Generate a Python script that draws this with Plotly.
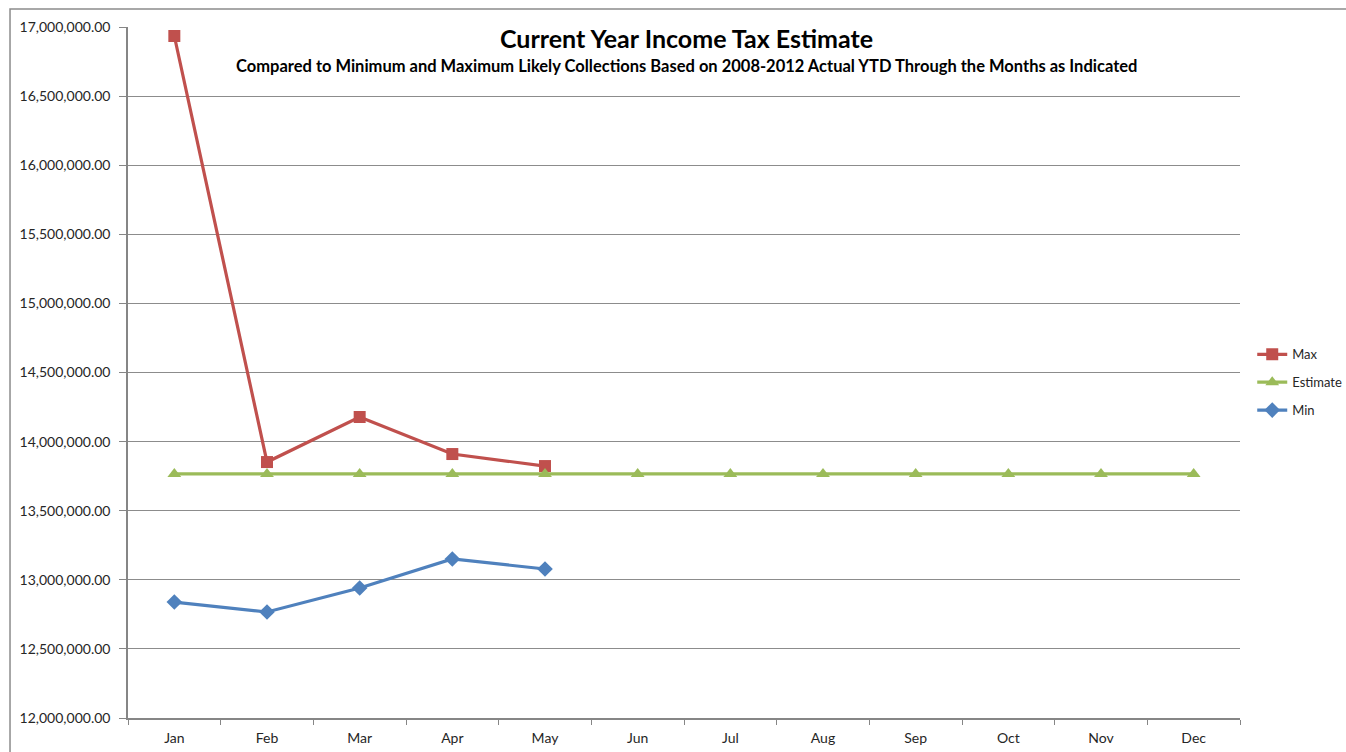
import plotly.graph_objects as go

months = ["Jan", "Feb", "Mar", "Apr", "May", "Jun", "Jul", "Aug", "Sep", "Oct", "Nov", "Dec"]
max_vals = [16935000, 13852000, 14178000, 13910000, 13823000]
estimate_vals = [13766000] * 12
min_vals = [12839000, 12767000, 12941000, 13151000, 13078000]
y_ticks = [12000000 + 500000 * i for i in range(11)]

FONT = "Lato, Calibri, Arial, sans-serif"
TEXT = "#262626"

fig = go.Figure()
fig.add_trace(go.Scatter(
    x=months[:len(max_vals)], y=max_vals, name="Max", mode="lines+markers",
    line=dict(color="#C0504D", width=3.2),
    marker=dict(symbol="square", size=12, color="#C0504D"),
    legendgroup="a",
))
fig.add_trace(go.Scatter(
    x=months, y=estimate_vals, name="Estimate", mode="lines+markers",
    line=dict(color="#9BBB59", width=3.2),
    marker=dict(symbol="triangle-up", size=12, color="#9BBB59"),
    legendgroup="b",
))
fig.add_trace(go.Scatter(
    x=months[:len(min_vals)], y=min_vals, name="Min", mode="lines+markers",
    line=dict(color="#4F81BD", width=3.2),
    marker=dict(symbol="diamond", size=12, color="#4F81BD"),
    legendgroup="c",
))

fig.update_layout(
    width=1346, height=752,
    margin=dict(l=128, r=106, t=27, b=34, autoexpand=False),
    paper_bgcolor="white", plot_bgcolor="white",
    font=dict(family=FONT, size=14, color=TEXT),
    showlegend=True,
    legend=dict(
        x=1.011, y=0.548, xanchor="left", yanchor="top",
        font=dict(family=FONT, size=13, color=TEXT),
        tracegroupgap=8, itemwidth=30, bgcolor="rgba(0,0,0,0)",
    ),
    annotations=[
        dict(text="<b>Current Year Income Tax Estimate</b>", xref="paper", yref="paper",
             x=0.502, y=0.984, xanchor="center", yanchor="middle", showarrow=False,
             font=dict(family=FONT, size=25, color="black")),
        dict(text="<b>Compared to Minimum and Maximum Likely Collections Based on 2008-2012 Actual YTD Through the Months as Indicated</b>",
             xref="paper", yref="paper", x=0.502, y=0.943, xanchor="center", yanchor="middle",
             showarrow=False, font=dict(family=FONT, size=16.5, color="black")),
    ],
    shapes=[
        dict(type="rect", xref="paper", yref="paper", x0=-0.1061, x1=1.2, y0=-0.2, y1=1.026,
             line=dict(color="#8C8C8C", width=1.5), layer="below"),
    ],
)

fig.update_xaxes(
    type="category", categoryorder="array", categoryarray=months,
    range=[-0.5, 11.5],
    showline=True, linecolor="#868686", linewidth=1.5,
    ticks="outside", tickson="boundaries", ticklen=5, tickcolor="#868686",
    ticklabelstandoff=6,
    showgrid=False, tickfont=dict(family=FONT, size=14, color=TEXT),
)
fig.update_yaxes(
    range=[12000000, 17000000], tickvals=y_ticks, tickformat=",.2f",
    showline=True, linecolor="#868686", linewidth=1.5,
    ticks="outside", ticklen=7, tickcolor="#868686",
    ticklabelstandoff=6,
    showgrid=True, gridcolor="#8C8C8C", gridwidth=1,
    zeroline=False, tickfont=dict(family=FONT, size=14, color=TEXT),
)

fig.write_html("out.html")
